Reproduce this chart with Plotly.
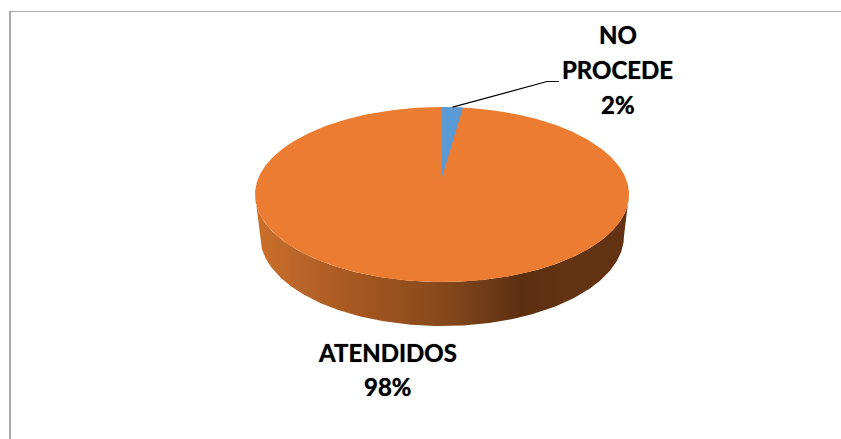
import numpy as np
import plotly.graph_objects as go

categories = ["NO PROCEDE", "ATENDIDOS"]
shares = [1.8, 98.2]
colors = ["#5B9BD5", "#EB7C31"]

W, H = 841, 439
CX, CY, RX, RY = 442, 194.5, 187, 87.5      # top face
BCX, BCY, BRX, BRY = 442, 236, 182, 90      # bottom rim
APEX_Y = 177


def rim(cx, cy, rx, ry, deg):
    a = np.radians(deg)
    return cx + rx * np.sin(a), cy - ry * np.cos(a)


fig = go.Figure()

# side wall: front half of the top rim, back along the bottom rim
deg = np.linspace(90, 270, 241)
tx, ty = rim(CX, CY, RX, RY, deg)
bx, by = rim(BCX, BCY, BRX, BRY, deg[::-1])
stops = [(255, "#CC7029"), (300, "#B9652A"), (360, "#A5571F"), (440, "#87491C"),
         (490, "#6E3A16"), (520, "#5C2F11"), (560, "#633213"), (629, "#633213")]
fig.add_trace(go.Scatter(
    x=np.r_[tx, bx], y=np.r_[ty, by], mode="lines", line=dict(width=0),
    fill="toself",
    fillgradient=dict(type="horizontal", start=255, stop=629,
                      colorscale=[[(s - 255) / 374, c] for s, c in stops]),
    hoverinfo="skip", showlegend=False))

# top face: slices start at twelve o'clock, clockwise
all_deg = np.linspace(0, 360, 721)
fx, fy = rim(CX, CY, RX, RY, all_deg)
fig.add_trace(go.Scatter(x=fx, y=fy, mode="lines", line=dict(width=0), fill="toself",
                         fillcolor=colors[1], name=categories[1], showlegend=False))
sweep = shares[0] / sum(shares) * 360
wd = np.linspace(0, sweep, 20)
wx, wy = rim(CX, CY, RX, RY, wd)
fig.add_trace(go.Scatter(x=np.r_[CX, wx, CX], y=np.r_[APEX_Y, wy, APEX_Y], mode="lines",
                         line=dict(width=0), fill="toself", fillcolor=colors[0],
                         name=categories[0], showlegend=False))

# leader line
lx, ly = rim(CX, CY, RX, RY, sweep / 2)
fig.add_trace(go.Scatter(x=[lx, 547, 559], y=[ly, 81.5, 81.5], mode="lines",
                         line=dict(color="#000000", width=1.2),
                         hoverinfo="skip", showlegend=False))


def label(lines, x, ys):
    for line, y in zip(lines, ys):
        fig.add_annotation(x=x, y=y, text=line, showarrow=False, xanchor="center",
                           yanchor="middle",
                           font=dict(family="Lato", size=24, color="#000000", weight=700,
                                     shadow="0 0 1px rgba(0,0,0,0.8)"))


label(categories[0].split() + [f"{round(shares[0] + 0.2)}%"], 617.5, [34, 69, 104.5])
label(categories[1].split() + [f"{round(shares[1] - 0.2)}%"], 387.5, [352, 386])

# chart frame
frame = dict(type="line", xref="x", yref="y", line=dict(color="#ABABAB", width=2))
fig.add_shape(x0=10, x1=10, y0=11, y1=H, **frame)
fig.add_shape(x0=10, x1=W, y0=11.5, y1=11.5, **{**frame, "line": dict(color="#ABABAB", width=1)})

fig.update_layout(
    width=W, height=H, margin=dict(l=0, r=0, t=0, b=0),
    paper_bgcolor="#FFFFFF", plot_bgcolor="#FFFFFF",
    xaxis=dict(range=[0, W], visible=False, fixedrange=True),
    yaxis=dict(range=[H, 0], visible=False, fixedrange=True),
)
fig.write_html("out.html", config={"displayModeBar": False},
               default_width=f"{W}px", default_height=f"{H}px",
               post_script="document.body.style.margin='0';document.body.style.overflow='hidden';")
